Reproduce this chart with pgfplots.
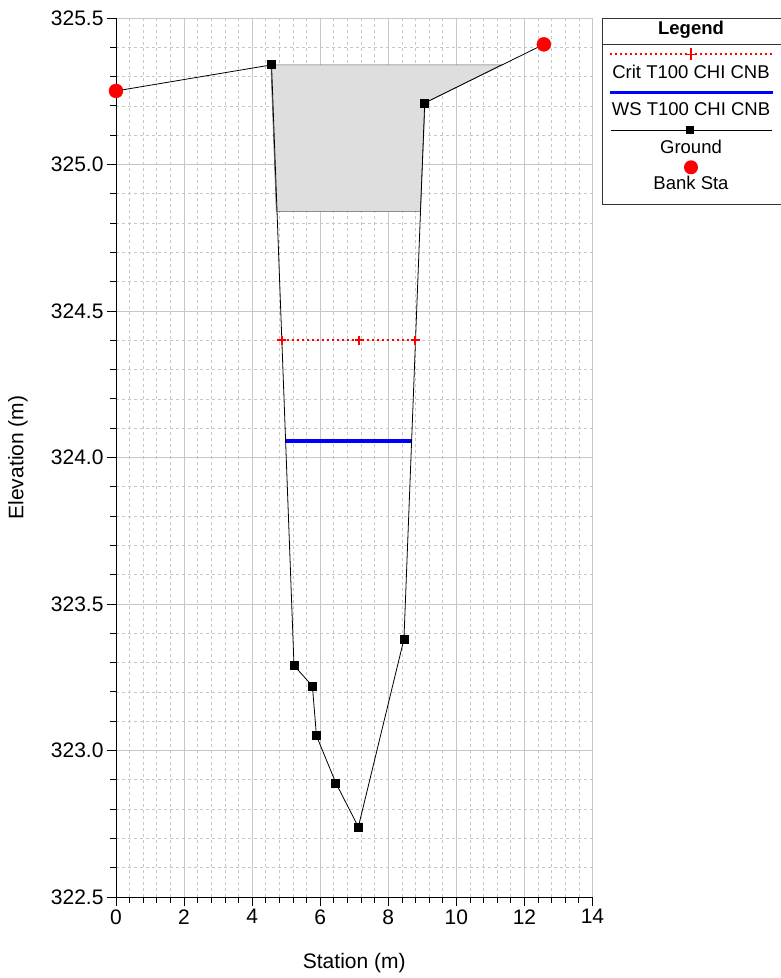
\documentclass[border=0pt]{standalone}
\usepackage{pgfplots}
\pgfplotsset{compat=1.18}
\usepackage{fontspec}
\setmainfont{Liberation Sans}
\begin{document}
\begin{tikzpicture}[x=1pt,y=1pt]
\useasboundingbox (0,0) rectangle (780,978);
\begin{axis}[
  at={(116pt,81pt)}, anchor=south west,
  scale only axis, width=476.5pt, height=879pt,
  xmin=0, xmax=14, ymin=322.5, ymax=325.5,
  xtick={0,2,...,14}, ytick={322.5,323.0,323.5,324.0,324.5,325.0,325.5},
  minor x tick num=4, minor y tick num=4,
  grid=both,
  major grid style={draw=black!22, line width=0.8pt},
  minor grid style={draw=black!22, dashed, line width=0.7pt},
  axis x line*=bottom, axis y line*=left,
  axis line style={black, line width=0.9pt},
  tick align=outside, tick pos=left,
  major tick length=9pt, minor tick length=6pt,
  every tick/.style={black, line width=0.8pt},
  tick label style={font=\fontsize{21}{24}\selectfont},
  /pgf/number format/assume math mode=true,
  yticklabel style={/pgf/number format/.cd, fixed, fixed zerofill, precision=1, 1000 sep={}},
  xticklabel style={/pgf/number format/.cd, fixed, precision=0},
  xlabel={Station (m)}, ylabel={Elevation (m)},
  label style={font=\fontsize{21}{24}\selectfont},
  xlabel style={at={(axis description cs:0.5,-0.0751)}, anchor=center},
  ylabel style={at={(axis description cs:-0.2057,0.5)}, anchor=center},
  clip=false,
]
% gray deck / ineffective area
\addplot[fill=black!13, draw=black!65, line width=0.6pt] coordinates {
  (4.55,325.34) (11.32,325.34) (9.08,325.21) (8.945,324.84) (4.71,324.84) (4.55,325.34)
} -- cycle;
% Crit
\addplot[red, line width=2pt, dash pattern=on 2pt off 3pt, mark=+, mark size=4.5pt,
  mark options={solid, line width=1.6pt}] coordinates {
  (4.87,324.40) (7.14,324.40) (8.79,324.40)
};
% WS
\addplot[blue, line width=3.5pt, mark=none] coordinates {
  (4.97,324.056) (8.70,324.056)
};
% Ground
\addplot[black, line width=0.8pt, mark=square*, mark size=4pt, mark options={solid}] coordinates {
  (0,325.251) (4.57,325.34) (5.23,323.29) (5.77,323.22) (5.89,323.05)
  (6.46,322.889) (7.12,322.739) (8.46,323.38) (9.07,325.21) (12.57,325.41)
};
% Bank Sta
\addplot[only marks, mark=*, mark size=7pt, red, mark options={draw=red, fill=red}] coordinates {
  (0,325.251) (12.57,325.41)
};
\end{axis}
% Legend
\begin{scope}[font=\fontsize{18.5}{21}\selectfont]
\draw[black!80, line width=0.9pt, fill=white] (602.5,774) rectangle (782,959.5);
\draw[black!80, line width=0.9pt] (602.5,933.7) -- (782,933.7);
\node at (691,948) {\textbf{Legend}};
\draw[red, line width=2pt, dash pattern=on 2pt off 3pt] (610,923.7) -- (773,923.7);
\draw[red, line width=1.4pt] (685,923.7) -- (697,923.7) (691,917.7) -- (691,929.7);
\node at (691,906.3) {Crit T100 CHI CNB};
\draw[blue, line width=3.5pt] (610,885.7) -- (773,885.7);
\node at (691,869) {WS T100 CHI CNB};
\draw[black, line width=0.8pt] (611,847.7) -- (772,847.7);
\fill[black] (686,843.7) rectangle (694,851.7);
\node at (691,831.3) {Ground};
\fill[red] (691,810.7) circle (7);
\node at (691,794.7) {Bank Sta};
\end{scope}
\end{tikzpicture}
\end{document}
